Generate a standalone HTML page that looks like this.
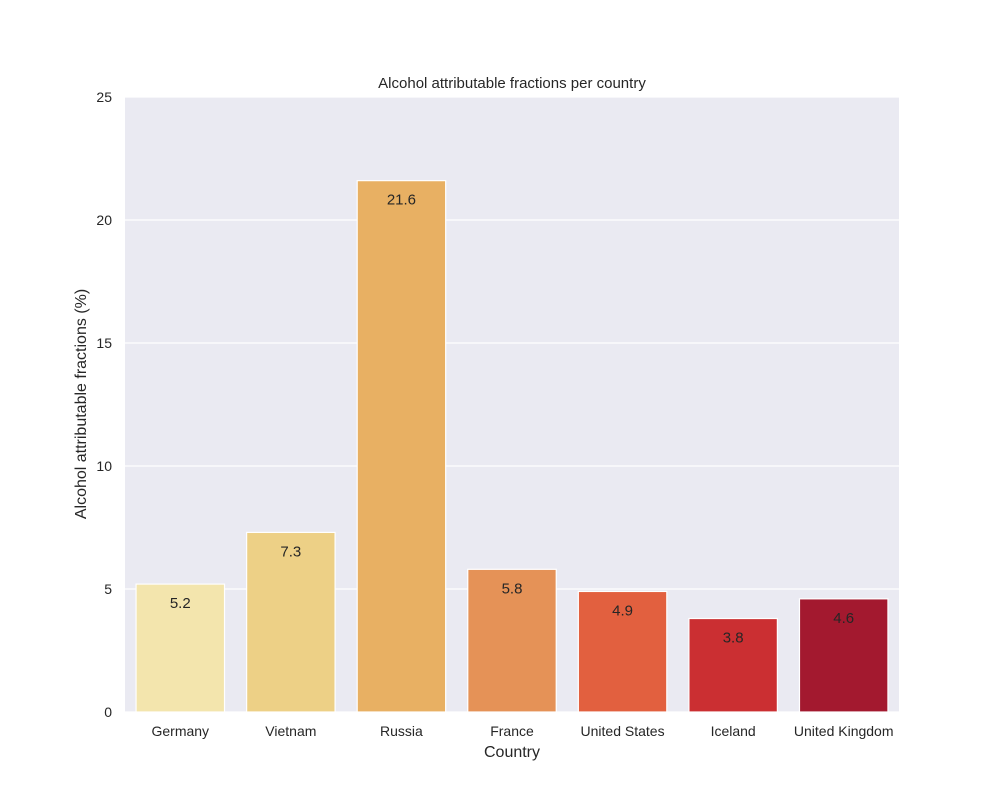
<!DOCTYPE html>
<html><head><meta charset="utf-8"><style>
body{margin:0;background:#fff;font-family:"Liberation Sans","DejaVu Sans",sans-serif;}
</style></head><body>
<svg width="1000" height="800" font-family="Liberation Sans, DejaVu Sans, sans-serif">
<rect x="0" y="0" width="1000" height="800" fill="#fff"/>
<rect x="125" y="97" width="774" height="615" fill="#eaeaf2"/>
<g id="grid"></g>
<g id="bars"></g>
<g id="xt"></g>
<g id="yt"></g>
<text x="512" y="88" text-anchor="middle" font-size="15" fill="#262626">Alcohol attributable fractions per country</text>
<text x="512" y="757" text-anchor="middle" font-size="16" fill="#262626">Country</text>
<text x="86" y="404" text-anchor="middle" font-size="16" fill="#262626" transform="rotate(-90 86 404)">Alcohol attributable fractions (%)</text>
</svg>
<script>
const categories=["Germany","Vietnam","Russia","France","United States","Iceland","United Kingdom"];
const values=[5.2,7.3,21.6,5.8,4.9,3.8,4.6];
const yTicks=[0,5,10,15,20,25];
const colors=["#f3e5ad","#edd086","#e8b063","#e59257","#e2603f","#cb2f32","#a3192f"];
const NS="http://www.w3.org/2000/svg";
const x0=125,x1=899,y0=712,y1=97,ymax=25;
const band=(x1-x0)/categories.length;
const y=v=>y0-(y0-y1)*v/ymax;
const xc=i=>x0+band*(i+0.5);
function mk(t,a,p){const e=document.createElementNS(NS,t);for(const k in a)e.setAttribute(k,a[k]);p.appendChild(e);return e;}
const g=document.getElementById('grid'),yt=document.getElementById('yt'),b=document.getElementById('bars'),xt=document.getElementById('xt');
yTicks.forEach(t=>{
 const l=mk('line',{x1:x0,x2:x1,y1:y(t),y2:y(t),stroke:'#fff','stroke-width':1.2},g);
 
 
 const tx=mk('text',{x:x0-13,y:y(t)+5,'text-anchor':'end','font-size':14,fill:'#262626'},yt);
 tx.textContent=t;
 
 
});
categories.forEach((c,i)=>{
 const w=band*0.8,v=values[i];
 const r=mk('rect',{x:xc(i)-w/2,y:y(v),width:w,height:y0-y(v),fill:colors[i],stroke:'#fff','stroke-width':1.2},b);
 
 
 const lb=mk('text',{x:xc(i),y:y(v)+24,'text-anchor':'middle','font-size':15,fill:'#262626'},b);
 lb.textContent=v.toFixed(1);
 
 
 const tx=mk('text',{x:xc(i),y:y0+24,'text-anchor':'middle','font-size':14,fill:'#262626'},xt);
 tx.textContent=c;
 
 
});
</script>
</body></html>
